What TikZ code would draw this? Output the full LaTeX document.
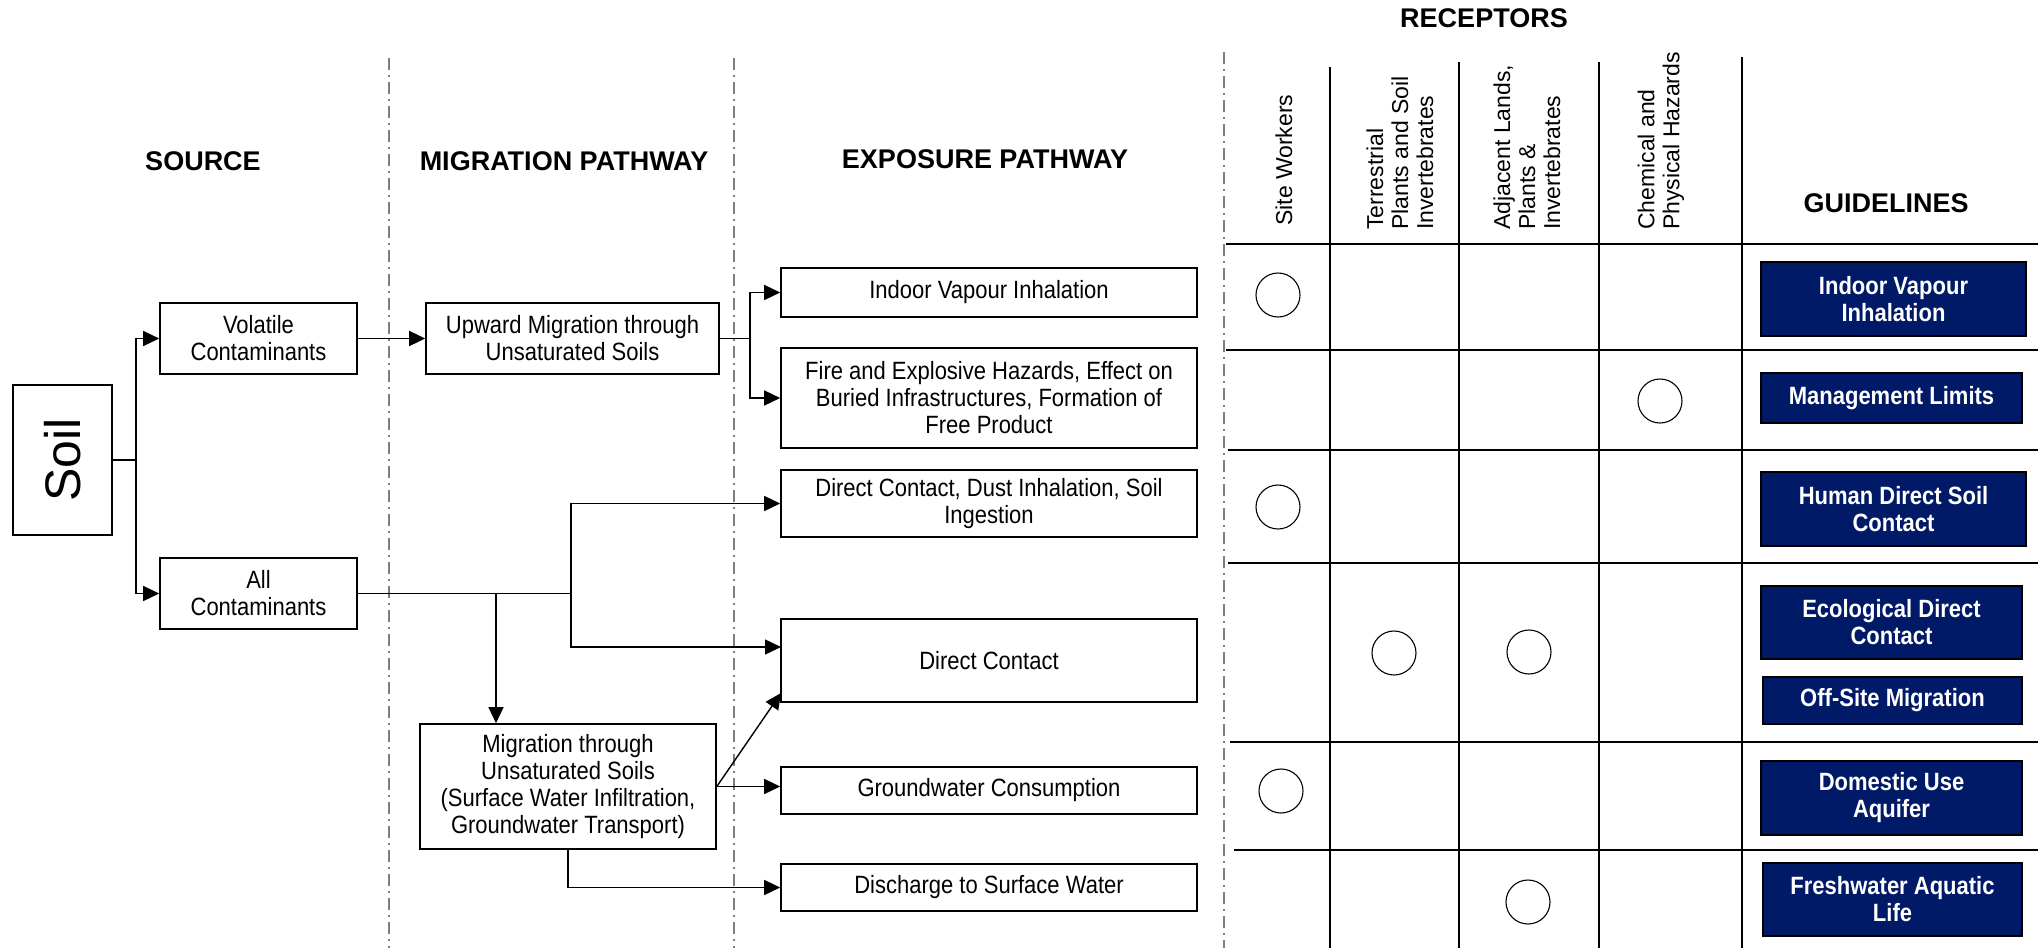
\documentclass[tikz,border=0pt]{standalone}
\usepackage{fontspec}
\setmainfont{Liberation Sans}
\newfontfamily\narrowfont[FakeStretch=0.88]{Liberation Sans}
\usetikzlibrary{arrows.meta}
\definecolor{guidenavy}{RGB}{0,26,104}
\definecolor{sepgray}{RGB}{125,125,125}
\begin{document}
\begin{tikzpicture}[x=1pt,y=-1pt,
  box/.style={draw=black,line width=1.6pt,rectangle,inner sep=0pt,align=center,font=\narrowfont\fontsize{25}{27}\selectfont},
  guide/.style={draw=black,fill=guidenavy,text=white,line width=1.2pt,inner sep=0pt,align=center,font=\narrowfont\bfseries\fontsize{25}{27}\selectfont},
  colhead/.style={inner sep=0pt,font=\bfseries\fontsize{27}{30}\selectfont},
  rechead/.style={rotate=90,anchor=west,align=left,inner sep=0pt,font=\fontsize{23}{25}\selectfont},
  hit/.style={draw=black,line width=1.1pt,circle,minimum size=44pt,inner sep=0pt},
  plain/.style={line width=1.4pt},
  flow/.style={line width=1.4pt,-{Triangle[length=16pt,width=15pt]}},
  divider/.style={draw=sepgray,line width=1.2pt,dash pattern=on 12pt off 5pt on 2pt off 5pt},
  tabline/.style={line width=1.8pt}]
\useasboundingbox (0,0) rectangle (2038,948);
% column headings
\node[colhead] (hsource) at (203,161) {SOURCE};
\node[colhead] (hmig) at (564,161) {MIGRATION PATHWAY};
\node[colhead] (hexp) at (985,159) {EXPOSURE PATHWAY};
\node[colhead] (hrec) at (1484,18) {RECEPTORS};
\node[colhead] (hguide) at (1886,203) {GUIDELINES};
\draw[divider] (389,58) -- (389,948);
\draw[divider] (734,58) -- (734,948);
\draw[divider] (1224,52) -- (1224,948);
% source and pathways
\node[box,rotate=90,minimum width=150pt,minimum height=99pt,font=\fontsize{50}{55}\selectfont] (soil) at (62.5,460) {Soil};
\node[box,minimum width=197pt,minimum height=71pt] (vol) at (258.5,338.5) {Volatile\\Contaminants};
\node[box,minimum width=197pt,minimum height=71pt] (allc) at (258.5,593.5) {All\\Contaminants};
\node[box,minimum width=293pt,minimum height=71pt] (upmig) at (572.5,338.5) {Upward Migration through\\Unsaturated Soils};
\node[box,minimum width=296pt,minimum height=125pt] (mig) at (568,786.5) {Migration through\\Unsaturated Soils\\(Surface Water Infiltration,\\Groundwater Transport)};
\node[box,minimum width=416pt,minimum height=49pt] (indoor) at (989,292.5) {Indoor Vapour Inhalation};
\node[box,minimum width=416pt,minimum height=100pt] (fire) at (989,398) {Fire and Explosive Hazards, Effect on\\Buried Infrastructures, Formation of\\Free Product};
\node[box,minimum width=416pt,minimum height=67pt] (dust) at (989,503.5) {Direct Contact, Dust Inhalation, Soil\\Ingestion};
\node[box,minimum width=416pt,minimum height=83pt] (direct) at (989,660.5) {Direct Contact};
\node[box,minimum width=416pt,minimum height=47pt] (gw) at (989,790.5) {Groundwater Consumption};
\node[box,minimum width=416pt,minimum height=47pt] (disch) at (989,887.5) {Discharge to Surface Water};
% connectors
\coordinate (sbus) at (136,460);
\coordinate (ubus) at (750,338.5);
\coordinate (adrop) at (496,593.5);
\coordinate (abus) at (571,593.5);
\coordinate (dcin) at (781,647);
\coordinate (dcdiag) at (781,693);
\draw[plain] (soil.south) -- (sbus);
\draw[flow] (sbus) |- (vol.west);
\draw[flow] (sbus) |- (allc.west);
\draw[flow] (vol) -- (upmig);
\draw[plain] (upmig.east) -- (ubus);
\draw[flow] (ubus) |- (indoor.west);
\draw[flow] (ubus) |- (fire.west);
\draw[plain] (allc.east) -- (abus);
\draw[flow] (adrop) -- (adrop |- mig.north);
\draw[flow] (abus) |- (dust.west);
\draw[flow] (abus) |- (dcin);
\draw[flow] (mig.east) -- (dcdiag);
\draw[flow] (mig.east) -- (mig.east -| gw.west);
\draw[flow] (mig.south) |- (disch.west);
% receptors table
\node[rechead] (rsite) at (1284,226) {Site Workers};
\node[rechead] (rterr) at (1400,230) {Terrestrial\\Plants and Soil\\Invertebrates};
\node[rechead] (radj) at (1527,230) {Adjacent Lands,\\Plants \&\\Invertebrates};
\node[rechead] (rchem) at (1661,230) {Chemical and\\Physical Hazards};
\draw[tabline] (1226,244) -- (2038,244);
\draw[tabline] (1226,350) -- (2038,350);
\draw[tabline] (1228,450) -- (2038,450);
\draw[tabline] (1228,563) -- (2038,563);
\draw[tabline] (1230,742) -- (2038,742);
\draw[tabline] (1234,850) -- (2038,850);
\draw[tabline] (1330,67) -- (1330,948);
\draw[tabline] (1459,62) -- (1459,948);
\draw[tabline] (1599,62) -- (1599,948);
\draw[tabline] (1742,57) -- (1742,948);
\node[hit] (hitsite1) at (1278,295) {};
\node[hit] (hitchem) at (1660,401) {};
\node[hit] (hitsite2) at (1278,507) {};
\node[hit] (hitterr) at (1394,653) {};
\node[hit] (hitadj1) at (1529,652) {};
\node[hit] (hitsite3) at (1281,791) {};
\node[hit] (hitadj2) at (1528,902) {};
% guidelines
\node[guide,minimum width=265pt,minimum height=74pt] (gindoor) at (1893.5,299) {Indoor Vapour\\Inhalation};
\node[guide,minimum width=261pt,minimum height=50pt] (gmanage) at (1891.5,398) {Management Limits};
\node[guide,minimum width=265pt,minimum height=74pt] (ghuman) at (1893.5,509) {Human Direct Soil\\Contact};
\node[guide,minimum width=261pt,minimum height=73pt] (gecol) at (1891.5,622.5) {Ecological Direct\\Contact};
\node[guide,minimum width=259pt,minimum height=47pt] (goffsite) at (1892.5,700.5) {Off-Site Migration};
\node[guide,minimum width=261pt,minimum height=74pt] (gdomestic) at (1891.5,798) {Domestic Use\\Aquifer};
\node[guide,minimum width=259pt,minimum height=73pt] (gfresh) at (1892.5,899.5) {Freshwater Aquatic\\Life};
\end{tikzpicture}
\end{document}
